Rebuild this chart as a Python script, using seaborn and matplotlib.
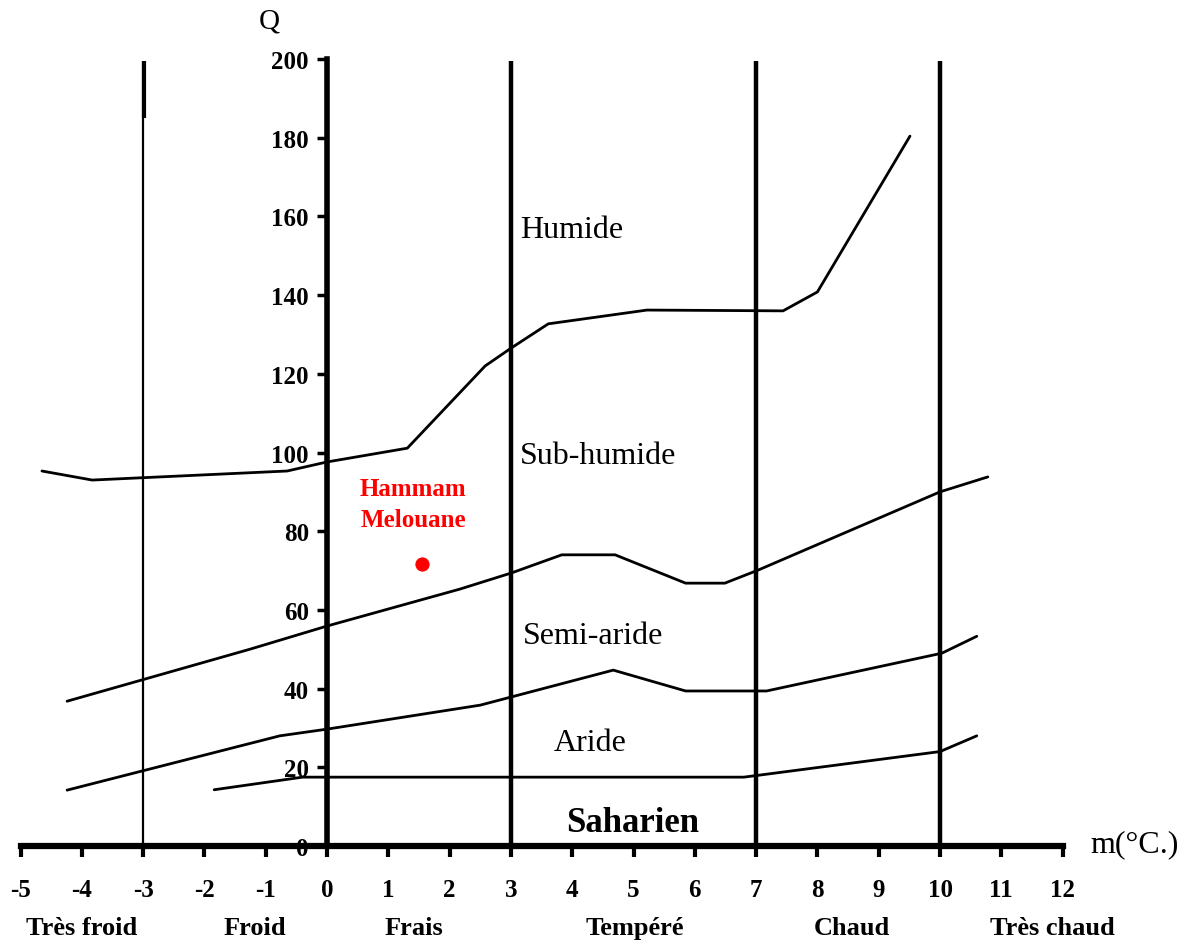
import numpy as np
import pandas as pd
import seaborn as sns
import matplotlib.pyplot as plt

# Climagramme d'Emberger - valeurs lues sur la figure
# limites entre étages bioclimatiques (m en °C, Q)
humide_m = [-4.65, -3.83, -0.65, 0.0, 1.31, 2.58, 3.0, 3.61, 5.22, 7.44, 8.0, 9.51]
humide_Q = [95.3, 93.0, 95.3, 97.6, 101.1, 122.0, 126.5, 132.7, 136.2, 136.0, 140.8, 180.4]

subhumide_m = [-4.24, -1.26, 0.0, 2.17, 3.01, 3.83, 4.70, 5.85, 6.49, 7.03, 10.0, 10.78]
subhumide_Q = [36.8, 50.0, 55.9, 65.3, 69.4, 74.0, 74.0, 66.8, 66.8, 70.1, 90.0, 93.8]

semiaride_m = [-4.24, -0.77, 0.0, 2.5, 4.67, 5.85, 7.17, 10.03, 10.6]
semiaride_Q = [14.2, 28.0, 29.7, 35.8, 44.7, 39.4, 39.4, 49.0, 53.3]

aride_m = [-1.84, -0.4, 6.8, 10.0, 10.6]
aride_Q = [14.3, 17.5, 17.5, 24.0, 28.0]

# limites verticales des variantes thermiques
limites_m = [3, 7, 10]
limite_froid = -3

# station
station_nom = "Hammam\nMelouane"
station_m = [1.55]
station_Q = [71.7]

# étiquettes des étages
etages = ["Humide", "Sub-humide", "Semi-aride", "Aride", "Saharien"]
etages_m = [3.15, 3.15, 3.2, 3.7, 3.9]
etages_Q = [156.6, 99.3, 53.6, 26.3, 6.0]

# variantes thermiques (sous l'axe)
variantes = ["Très froid", "Froid", "Frais", "Tempéré", "Chaud", "Très chaud"]
variantes_m = [-4.01, -1.17, 1.42, 5.02, 8.57, 11.84]

x_ticks = list(range(-5, 13))
y_ticks = list(range(0, 201, 20))

df = pd.concat([
    pd.DataFrame({"m": humide_m, "Q": humide_Q, "limite": "humide"}),
    pd.DataFrame({"m": subhumide_m, "Q": subhumide_Q, "limite": "subhumide"}),
    pd.DataFrame({"m": semiaride_m, "Q": semiaride_Q, "limite": "semiaride"}),
    pd.DataFrame({"m": aride_m, "Q": aride_Q, "limite": "aride"}),
], ignore_index=True)

sns.set_theme(style="ticks", rc={"text.color": "black", "xtick.color": "black",
                                 "ytick.color": "black", "axes.edgecolor": "black"})
plt.rcParams['font.family'] = ['Liberation Serif', 'DejaVu Serif']
plt.rcParams['axes.unicode_minus'] = False

fig = plt.figure(figsize=(11.96, 9.45), dpi=100)
ax = fig.add_axes([0, 0, 1, 1])
ax.set_facecolor("white")

sns.lineplot(data=df, x="m", y="Q", units="limite", estimator=None, sort=False,
             color="black", linewidth=2.0, legend=False, ax=ax)

ax.vlines(limites_m, 0, 199.5, color="black", linewidth=3.2)
ax.vlines([limite_froid], 0, 199.5, color="black", linewidth=1.6)
ax.vlines([limite_froid + 0.02], 185, 199.5, color="black", linewidth=3.0)

sns.scatterplot(x=station_m, y=station_Q, color="red", edgecolor="red", s=90,
                zorder=5, ax=ax)
ax.text(1.41, 87, station_nom, color="red", fontsize=18, fontweight="bold",
        ha="center", va="center", linespacing=1.45)

for nom, mx, qy in zip(etages, etages_m, etages_Q):
    sah = nom == "Saharien"
    ax.text(mx, qy, nom, fontsize=25 if sah else 23, ha="left", va="center",
            color="black", fontweight="bold" if sah else "normal")

for nom, mx in zip(variantes, variantes_m):
    ax.text(mx, -20.6, nom, fontsize=19, fontweight="bold", ha="center",
            va="center", color="black")

ax.text(-0.95, 209.7, "Q", fontsize=21, ha="center", va="center", color="black")
ax.text(12.45, 0.5, "m(°C.)", fontsize=23, ha="left", va="center", color="black")

# axes
ax.set_xlim(-327 / 61.3, (1196 - 327) / 61.3)
ax.set_ylim(-24.9, 215.25)
for s in ["top", "right"]:
    ax.spines[s].set_visible(False)
ax.spines["left"].set_position(("data", 0))
ax.spines["bottom"].set_position(("data", 0))
ax.spines["left"].set_bounds(0, 200)
ax.spines["bottom"].set_bounds(-5, 12)
ax.spines["left"].set_linewidth(4)
ax.spines["bottom"].set_linewidth(4.5)

ax.set_xticks(x_ticks)
ax.set_yticks(y_ticks)
ax.tick_params(axis="x", direction="out", length=8, width=3, pad=15,
               labelsize=18, color="black", labelcolor="black", bottom=True)
ax.tick_params(axis="y", direction="out", length=7, width=2.5, pad=6,
               labelsize=18, color="black", labelcolor="black", left=True)
plt.setp(ax.get_xticklabels(), fontweight="bold")
plt.setp(ax.get_yticklabels(), fontweight="bold")
ax.set_xlabel("")
ax.set_ylabel("")

fig.savefig("out.png", dpi=100, facecolor="white")
